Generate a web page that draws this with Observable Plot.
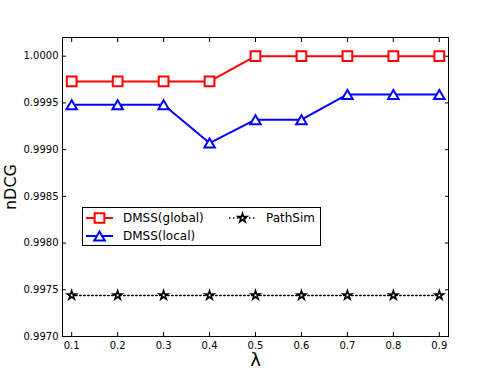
<!DOCTYPE html>
<html>
<head>
<meta charset="utf-8">
<script src="https://cdn.jsdelivr.net/npm/d3@7"></script>
<script src="https://cdn.jsdelivr.net/npm/@observablehq/plot@0.6"></script>
<style>
  html, body { margin: 0; padding: 0; background: #fff; }
  #wrap { position: relative; width: 498px; height: 374px; font-family: "DejaVu Sans", sans-serif; }
  #legend { position: absolute; left: 82px; top: 207px; width: 237px; height: 37px; border: 1px solid #000; background: #fff; font-size: 12px; }
  #legend .item { position: absolute; display: flex; align-items: center; height: 18px; }
  #legend svg { display: block; }
</style>
</head>
<body>
<div id="wrap"></div>
<script>
const lambdas = [0.1, 0.2, 0.3, 0.4, 0.5, 0.6, 0.7, 0.8, 0.9];
const dmssGlobal = [0.99973, 0.99973, 0.99973, 0.99973, 1.0000, 1.0000, 1.0000, 1.0000, 1.0000];
const dmssLocal = [0.99948, 0.99948, 0.99948, 0.99907, 0.99932, 0.99932, 0.99959, 0.99959, 0.99959];
const pathSim = [0.99744, 0.99744, 0.99744, 0.99744, 0.99744, 0.99744, 0.99744, 0.99744, 0.99744];
const xTicks = [0.1, 0.2, 0.3, 0.4, 0.5, 0.6, 0.7, 0.8, 0.9];
const yTicks = [0.9970, 0.9975, 0.9980, 0.9985, 0.9990, 0.9995, 1.0000];
const seriesNames = ["DMSS(global)", "DMSS(local)", "PathSim"];
const seriesColors = ["#ff0000", "#0000ff", "#000000"];

const toRows = (vals, name) => vals.map((v, i) => ({x: lambdas[i], y: v, series: name}));
const gRows = toRows(dmssGlobal, seriesNames[0]);
const lRows = toRows(dmssLocal, seriesNames[1]);
const pRows = toRows(pathSim, seriesNames[2]);

const font = "DejaVu Sans, sans-serif";
const plot = Plot.plot({
  width: 498,
  height: 374,
  marginLeft: 62,
  marginRight: 50,
  marginTop: 37,
  marginBottom: 38,
  style: {fontFamily: font, fontSize: "10px", color: "#000", background: "transparent"},
  x: {domain: [0.08, 0.92]},
  y: {domain: [0.9970, 1.0002]},
  marks: [
    Plot.axisX(xTicks, {anchor: "bottom", tickSize: -4, tickPadding: 9, tickFormat: d3.format(".1f"), label: null, fontSize: 10}),
    Plot.axisX(xTicks, {anchor: "top", tickSize: -4, tickFormat: () => "", label: null}),
    Plot.axisY(yTicks, {anchor: "left", tickSize: -4, tickPadding: 8, tickFormat: d3.format(".4f"), label: null, fontSize: 10}),
    Plot.axisY(yTicks, {anchor: "right", tickSize: -4, tickFormat: () => "", label: null}),
    Plot.text(["nDCG"], {frameAnchor: "left", dx: -52, rotate: -90, fontSize: 16, fill: "#000", textAnchor: "middle", lineAnchor: "middle"}),
    Plot.text(["λ"], {frameAnchor: "bottom", dy: 24, fontSize: 18, fill: "#000", lineAnchor: "middle"}),
    Plot.line(pRows, {x: "x", y: "y", stroke: seriesColors[2], strokeWidth: 1.5, strokeDasharray: "1.5,2.5"}),
    Plot.dot(pRows, {x: "x", y: "y", symbol: "star", r: 2.7, stroke: seriesColors[2], fill: "#fff", strokeWidth: 1.7}),
    Plot.line(lRows, {x: "x", y: "y", stroke: seriesColors[1], strokeWidth: 2}),
    Plot.dot(lRows, {x: "x", y: "y", symbol: "triangle", r: 3.9, dy: 1.5, stroke: seriesColors[1], fill: "#fff", strokeWidth: 2}),
    Plot.line(gRows, {x: "x", y: "y", stroke: seriesColors[0], strokeWidth: 2}),
    Plot.dot(gRows, {x: "x", y: "y", symbol: "square", r: 5.5, stroke: seriesColors[0], fill: "#fff", strokeWidth: 2}),
    Plot.frame({stroke: "#000", strokeWidth: 1})
  ]
});

const wrap = document.getElementById("wrap");
wrap.appendChild(plot);

// legend overlay
const legend = document.createElement("div");
legend.id = "legend";
wrap.appendChild(legend);
const items = [
  {name: seriesNames[0], color: seriesColors[0], symbol: d3.symbolSquare, size: Math.PI * 5.5 * 5.5, dash: null, sw: 2, msw: 2, left: 3, top: 1, dy: 0},
  {name: seriesNames[1], color: seriesColors[1], symbol: d3.symbolTriangle, size: Math.PI * 3.9 * 3.9, dash: null, sw: 2, msw: 2, left: 3, top: 19, dy: 1.5},
  {name: seriesNames[2], color: seriesColors[2], symbol: d3.symbolStar, size: Math.PI * 2.7 * 2.7, dash: "1.5,2.5", sw: 1.5, msw: 1.7, left: 146, top: 1, dy: 0}
];
for (const it of items) {
  const div = document.createElement("div");
  div.className = "item";
  div.style.left = it.left + "px";
  div.style.top = it.top + "px";
  const svg = d3.create("svg").attr("width", 28).attr("height", 18);
  svg.append("line").attr("x1", 0).attr("x2", 27).attr("y1", 9).attr("y2", 9)
    .attr("stroke", it.color).attr("stroke-width", it.sw).attr("stroke-dasharray", it.dash);
  svg.append("path").attr("d", d3.symbol(it.symbol, it.size)())
    .attr("transform", `translate(13.5,${9 + it.dy})`)
    .attr("fill", "#fff").attr("stroke", it.color).attr("stroke-width", it.msw);
  div.appendChild(svg.node());
  const span = document.createElement("span");
  span.textContent = it.name;
  span.style.marginLeft = "9px";
  div.appendChild(span);
  legend.appendChild(div);
}
</script>
</body>
</html>
